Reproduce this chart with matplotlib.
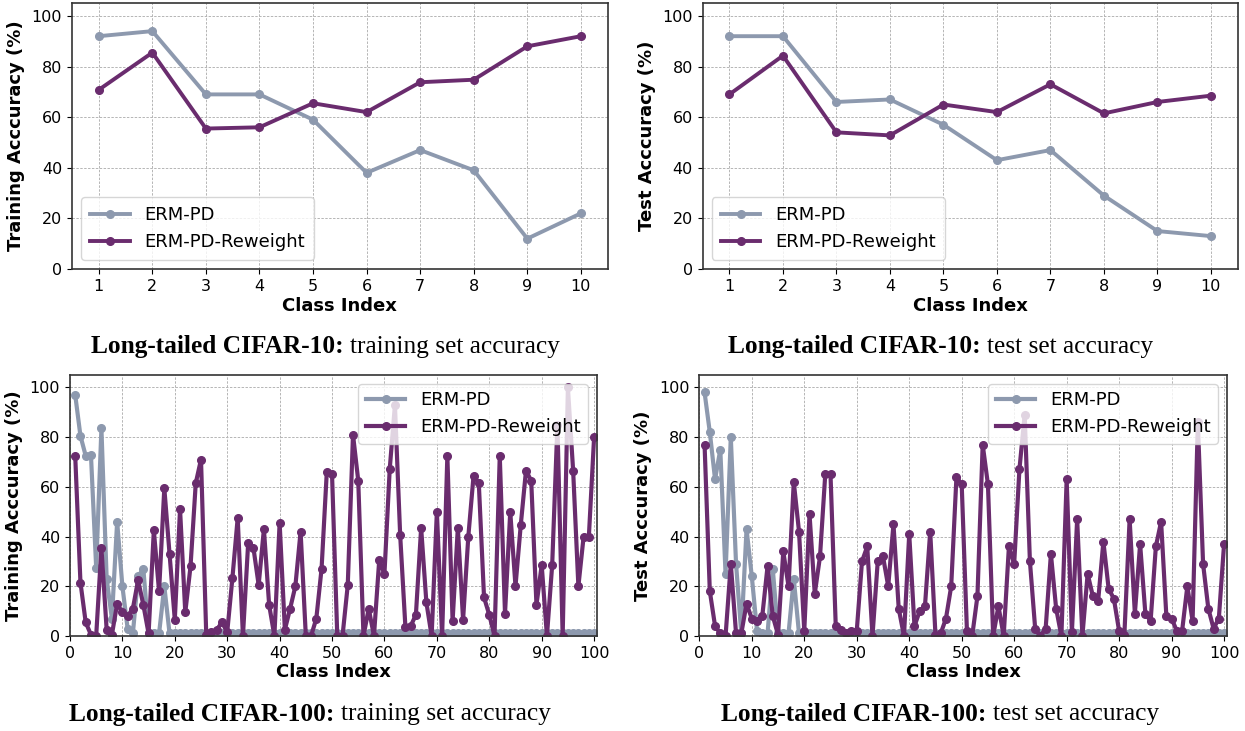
import numpy as np
import matplotlib
matplotlib.use("Agg")
import matplotlib.pyplot as plt

# CIFAR-10 per-class accuracy
c10_classes = list(range(1, 11))
c10_train_pd = [92, 94, 69, 69, 59, 38, 47, 39, 12, 22]
c10_train_rw = [70.8, 85.5, 55.5, 56, 65.5, 62, 73.8, 74.8, 88, 92]
c10_test_pd = [92, 92, 66, 67, 57, 43, 47, 29, 15, 13]
c10_test_rw = [69, 84.3, 54, 52.8, 65, 62, 73, 61.5, 66, 68.5]

# CIFAR-100 per-class accuracy
c100_classes = list(range(1, 101))
c100_train_pd = [97, 80.5, 72.5, 73, 27.5, 83.5, 23, 7, 46, 20,
                 3, 1, 24, 27, 1, 1, 1, 20] + [1] * 82
c100_train_rw = [72.5, 21.5, 5.5, 0.5, 0, 35.5, 2.5, 0.5, 13, 9.5,
                 8, 11, 22.5, 12.5, 1, 42.5, 18, 59.5, 33, 6.5,
                 51, 9.5, 28, 61.5, 71, 0.5, 1.5, 2.5, 5.5, 1.5,
                 23.5, 47.5, 0, 37.5, 35.5, 20.5, 43, 12.5, 0, 45.5,
                 2.5, 11, 20, 42, 0, 0, 7, 27, 66, 65,
                 0, 0, 20.5, 81, 62.5, 0, 11, 0, 30.5, 25,
                 67, 93, 40.5, 3.5, 4, 8.5, 43.5, 13.5, 0, 50,
                 0, 72.5, 6, 43.5, 6.5, 40, 64.5, 61.5, 15.5, 8.5,
                 0, 72.5, 9, 50, 20, 44.5, 66.5, 62.5, 12.5, 28.5,
                 0, 28.5, 85, 0, 100, 66.5, 20, 40, 40, 80]
c100_test_pd = [98, 82, 63, 75, 25, 80, 29, 1, 43, 24,
                2, 1, 1, 27, 1, 1, 1, 23] + [1] * 82
c100_test_rw = [77, 18, 4, 1, 0, 29, 1, 1, 13, 7,
                6, 8, 28, 8, 0.5, 34, 20, 62, 42, 2,
                49, 17, 32, 65, 65, 4, 2.5, 1, 2, 2,
                30, 36, 0, 30, 32, 20, 45, 11, 0, 41,
                4, 10, 12, 42, 0.5, 1, 7, 20, 64, 61,
                2, 0, 16, 77, 61, 0, 12, 0, 36, 29,
                67, 89, 30, 3, 0, 3, 33, 11, 0, 63,
                1.5, 47, 0, 25, 16, 14, 38, 19, 15, 2,
                0.5, 47, 9, 37, 9, 6, 36, 46, 8, 7,
                2, 2, 20, 6, 86, 29, 11, 3, 7, 37]

c_pd = "#8D99AE"
c_rw = "#6A2C6E"

fig = plt.figure(figsize=(12.45, 7.31), dpi=100)

ax1 = fig.add_axes([0.0578, 0.632, 0.4303, 0.3635])
ax2 = fig.add_axes([0.5644, 0.632, 0.4297, 0.3635])
ax3 = fig.add_axes([0.0562, 0.130, 0.4231, 0.357])
ax4 = fig.add_axes([0.5617, 0.130, 0.4236, 0.357])


def style(ax, ylabel):
    ax.grid(True, color="#b5b5b5", linestyle=(0, (2.5, 1.5)), linewidth=0.7)
    ax.set_axisbelow(True)
    ax.set_ylim(0, 105)
    ax.set_yticks([0, 20, 40, 60, 80, 100])
    ax.set_ylabel(ylabel, fontsize=13, fontweight="bold", labelpad=5)
    ax.set_xlabel("Class Index", fontsize=13, fontweight="bold", labelpad=2)
    ax.tick_params(labelsize=11.5)
    for s in ax.spines.values():
        s.set_color("#333333")
        s.set_linewidth(1.2)


for ax, pd_vals, rw_vals, lab in [(ax1, c10_train_pd, c10_train_rw, "Training Acccuracy (%)"),
                                   (ax2, c10_test_pd, c10_test_rw, "Test Acccuracy (%)")]:
    ax.plot(c10_classes, pd_vals, color=c_pd, marker="o", lw=2.8, ms=5.5, label="ERM-PD")
    ax.plot(c10_classes, rw_vals, color=c_rw, marker="o", lw=2.8, ms=5.5, label="ERM-PD-Reweight")
    style(ax, lab)
    ax.set_xlim(0.5, 10.5)
    ax.set_xticks(c10_classes)
    ax.legend(loc="lower left", fontsize=13, borderpad=0.5, handlelength=2.2)

for ax, pd_vals, rw_vals, lab in [(ax3, c100_train_pd, c100_train_rw, "Training Acccuracy (%)"),
                                   (ax4, c100_test_pd, c100_test_rw, "Test Acccuracy (%)")]:
    ax.plot(c100_classes, pd_vals, color=c_pd, marker="o", lw=3, ms=5.5, label="ERM-PD")
    ax.plot(c100_classes, rw_vals, color=c_rw, marker="o", lw=3, ms=5.5, label="ERM-PD-Reweight")
    style(ax, lab)
    ax.set_xlim(0, 100.5)
    ax.set_xticks(range(0, 101, 10))
    ax.legend(loc="upper right", fontsize=13, borderpad=0.4, handlelength=2.2)

# captions: bold dataset name followed by regular description
renderer = fig.canvas.get_renderer()


def caption(xc, yc, bold, rest):
    t1 = fig.text(0, yc, bold + " ", fontsize=18.3, fontweight="bold",
                  family="Liberation Serif", va="center")
    t2 = fig.text(0, yc, rest, fontsize=18.3, family="Liberation Serif", va="center")
    w1 = t1.get_window_extent(renderer).width / fig.bbox.width
    w2 = t2.get_window_extent(renderer).width / fig.bbox.width
    x0 = xc - (w1 + w2) / 2
    t1.set_x(x0)
    t2.set_x(x0 + w1)


caption(325 / 1245, 1 - 347 / 731, "Long-tailed CIFAR-10:", "training set accuracy")
caption(941 / 1245, 1 - 347 / 731, "Long-tailed CIFAR-10:", "test set accuracy")
caption(310 / 1245, 1 - 714 / 731, "Long-tailed CIFAR-100:", "training set accuracy")
caption(940 / 1245, 1 - 714 / 731, "Long-tailed CIFAR-100:", "test set accuracy")

fig.savefig("out.png", dpi=100)
